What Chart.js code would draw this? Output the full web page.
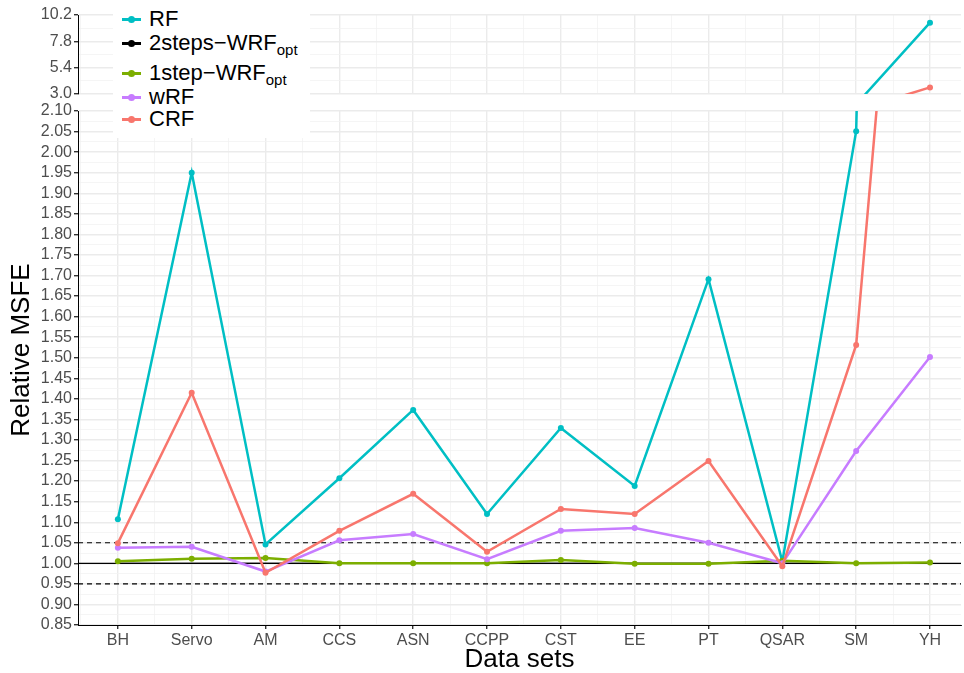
<!DOCTYPE html>
<html>
<head>
<meta charset="utf-8">
<script src="https://cdn.jsdelivr.net/npm/chart.js@4.4.1/dist/chart.umd.min.js"></script>
<style>
html, body { margin: 0; padding: 0; background: #fff; }
#wrap { position: relative; width: 964px; height: 673px; font-family: "Liberation Sans", Arial, sans-serif; }
#wrap canvas { position: absolute; left: 0; top: 0; }
#legend { position: absolute; left: 113px; top: 0; width: 197px; height: 138px; background: #fff; }
.item { position: absolute; left: 0; height: 24px; line-height: 24px; display: flex; align-items: center; font-size: 22px; color: #000; white-space: nowrap; }
.sym { position: relative; width: 19px; height: 3px; margin-left: 9px; margin-right: 8px; }
.sym i { position: absolute; left: 6px; top: -2px; width: 7px; height: 7px; border-radius: 50%; background: inherit; }
.item sub { font-size: 15px; position: relative; top: 7px; vertical-align: baseline; line-height: 0; }
#ytitle { position: absolute; left: -130px; top: 334px; width: 300px; height: 32px; line-height: 32px; text-align: center; font-size: 26px; color: #000; transform: rotate(-90deg); }
</style>
</head>
<body>
<div id="wrap">
  <canvas id="top-chart" width="964" height="673"></canvas>
  <canvas id="bottom-chart" width="964" height="673"></canvas>
  <div id="ytitle">Relative MSFE</div>
  <div id="legend"></div>
</div>
<script>
// データ
const categories = ['BH', 'Servo', 'AM', 'CCS', 'ASN', 'CCPP', 'CST', 'EE', 'PT', 'QSAR', 'SM', 'YH'];
const rfValues      = [1.107, 1.950, 1.046, 1.207, 1.373, 1.120, 1.329, 1.188, 1.691, 1.004, 2.051, 9.50];
const twoStepValues = [1.000, 1.000, 1.000, 1.000, 1.000, 1.000, 1.000, 1.000, 1.000, 1.000, 1.000, 1.000];
const oneStepValues = [1.005, 1.011, 1.013, 1.000, 1.000, 1.000, 1.008, 0.999, 0.999, 1.006, 1.000, 1.002];
const wrfValues     = [1.038, 1.040, 0.980, 1.056, 1.071, 1.010, 1.079, 1.086, 1.050, 1.000, 1.273, 1.502];
const crfValues     = [1.049, 1.415, 0.977, 1.079, 1.169, 1.028, 1.132, 1.120, 1.249, 0.993, 1.531, 3.60];
const refValues = [0.95, 1.00, 1.05];

// 軸の目盛り
const lowerTicks = [0.85, 0.90, 0.95, 1.00, 1.05, 1.10, 1.15, 1.20, 1.25, 1.30, 1.35, 1.40, 1.45, 1.50,
    1.55, 1.60, 1.65, 1.70, 1.75, 1.80, 1.85, 1.90, 1.95, 2.00, 2.05, 2.10];
const upperTicks = [3.0, 5.4, 7.8, 10.2];

const X_MIN = -0.54;
const X_MAX = 11.42;
const AXIS_WIDTH = 78;
const tickFont = { family: '"Liberation Sans", Arial, sans-serif', size: 16 };
const tickColor = '#4D4D4D';
const majorGrid = '#EBEBEB';
const minorGrid = '#F2F2F2';

const series = [
    { label: 'RF', sub: '', values: rfValues, color: '#00BFC4', order: 5, dots: true },
    { label: '2steps\u2212WRF', sub: 'opt', values: twoStepValues, color: '#000000', order: 4, dots: false },
    { label: '1step\u2212WRF', sub: 'opt', values: oneStepValues, color: '#7CAE00', order: 3, dots: true },
    { label: 'wRF', sub: '', values: wrfValues, color: '#C77CFF', order: 2, dots: true },
    { label: 'CRF', sub: '', values: crfValues, color: '#F8766D', order: 1, dots: true }
];

function makeDatasets() {
    return series.map(s => ({
        label: s.label,
        data: s.values.map((v, i) => ({ x: i, y: v })),
        borderColor: s.color,
        backgroundColor: s.color,
        borderWidth: s.dots ? 2.5 : 1.2,
        pointRadius: s.dots ? 3 : 0,
        pointBorderWidth: 0,
        pointHoverRadius: s.dots ? 3 : 0,
        order: s.order,
        clip: 0,
        tension: 0
    }));
}

// 主目盛りと副目盛り（中間点）を作る
function withMinor(list) {
    const out = [];
    list.forEach((v, i) => {
        out.push(v);
        if (i < list.length - 1) out.push((v + list[i + 1]) / 2);
    });
    return out;
}

function isMajorValue(list, v) {
    return list.some(t => Math.abs(t - v) < 1e-6);
}

function xTickValues() {
    const out = [-0.5];
    categories.forEach((c, i) => { out.push(i); if (i < categories.length - 1) out.push(i + 0.5); });
    return out;
}

function xScale(showLabels) {
    return {
        type: 'linear',
        min: X_MIN,
        max: X_MAX,
        afterBuildTicks: scale => { scale.ticks = xTickValues().map(v => ({ value: v })); },
        afterFit: scale => { scale.height = showLabels ? 48 : 0; },
        ticks: {
            display: showLabels,
            autoSkip: false,
            maxRotation: 0,
            padding: 2,
            color: tickColor,
            font: tickFont,
            callback: v => Number.isInteger(v) ? categories[v] : ''
        },
        grid: {
            drawTicks: showLabels,
            tickLength: 4,
            color: c => Number.isInteger(c.tick.value) ? majorGrid : minorGrid,
            lineWidth: c => Number.isInteger(c.tick.value) ? 1.4 : 0.8,
            tickColor: c => Number.isInteger(c.tick.value) ? '#333333' : 'rgba(0,0,0,0)'
        },
        border: { display: showLabels, color: '#000000', width: 1 },
        title: {
            display: showLabels,
            text: 'Data sets',
            color: '#000000',
            font: { family: '"Liberation Sans", Arial, sans-serif', size: 26, lineHeight: 1 },
            padding: { top: 0, bottom: 0 }
        }
    };
}

function yScale(major, digits) {
    const all = withMinor(major);
    return {
        type: 'linear',
        min: major[0],
        max: major[major.length - 1],
        afterBuildTicks: scale => { scale.ticks = all.map(v => ({ value: v })); },
        afterFit: scale => { scale.width = AXIS_WIDTH; },
        ticks: {
            autoSkip: false,
            padding: 2,
            color: tickColor,
            font: tickFont,
            callback: v => isMajorValue(major, v) ? v.toFixed(digits) : ''
        },
        grid: {
            tickLength: 4,
            color: c => isMajorValue(major, c.tick.value) ? majorGrid : minorGrid,
            lineWidth: c => isMajorValue(major, c.tick.value) ? 1.4 : 0.8,
            tickColor: c => isMajorValue(major, c.tick.value) ? '#333333' : 'rgba(0,0,0,0)'
        },
        border: { display: true, color: '#000000', width: 1 }
    };
}

// 参照線（1.00 は実線、0.95 / 1.05 は破線）
const refLinePlugin = {
    id: 'refLines',
    beforeDatasetsDraw(chart) {
        const { ctx, chartArea, scales } = chart;
        ctx.save();
        refValues.forEach(v => {
            const y = scales.y.getPixelForValue(v);
            ctx.beginPath();
            ctx.strokeStyle = '#000000';
            ctx.lineWidth = v === 1 ? 1.3 : 1.1;
            ctx.setLineDash(v === 1 ? [] : [5, 4]);
            ctx.moveTo(chartArea.left, y);
            ctx.lineTo(chartArea.right, y);
            ctx.stroke();
        });
        ctx.restore();
    }
};

function createChart(canvasId, yOpts, padding, showX, plugins) {
    const ctx = document.getElementById(canvasId).getContext('2d');
    return new Chart(ctx, {
        type: 'line',
        data: { datasets: makeDatasets() },
        options: {
            responsive: false,
            animation: false,
            layout: { padding: padding },
            plugins: { legend: { display: false }, tooltip: { enabled: false } },
            scales: { x: xScale(showX), y: yOpts }
        },
        plugins: plugins
    });
}

// 上段（3.0〜10.2）
createChart('top-chart', yScale(upperTicks, 1), { top: 15, bottom: 673 - 94, left: 0, right: 0 }, false, []);
// 下段（0.85〜2.10）
createChart('bottom-chart', yScale(lowerTicks, 2), { top: 111, bottom: 0, left: 0, right: 0 }, true, [refLinePlugin]);

// 凡例
const legendRows = [19, 43, 73, 97, 119];
const legend = document.getElementById('legend');
series.forEach((s, i) => {
    const row = document.createElement('div');
    row.className = 'item';
    row.style.top = (legendRows[i] - 12) + 'px';
    row.innerHTML = '<span class="sym" style="background:' + s.color + '"><i></i></span>' +
        s.label + (s.sub ? '<sub>' + s.sub + '</sub>' : '');
    legend.appendChild(row);
});
</script>
</body>
</html>
